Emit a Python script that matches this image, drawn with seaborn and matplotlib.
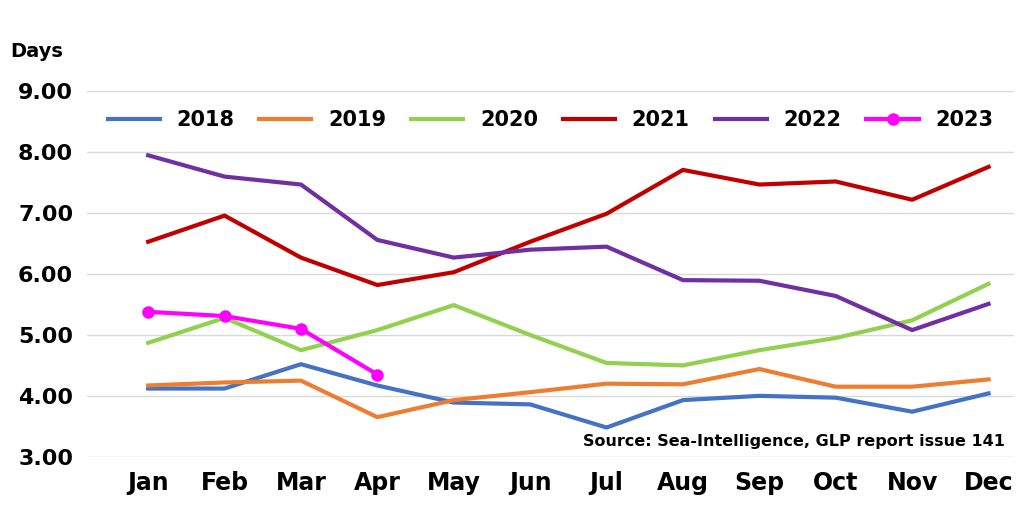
import matplotlib
matplotlib.use("Agg")
import matplotlib.pyplot as plt
import pandas as pd
import seaborn as sns

months = ["Jan", "Feb", "Mar", "Apr", "May", "Jun", "Jul", "Aug", "Sep", "Oct", "Nov", "Dec"]
y2018 = [4.12, 4.12, 4.52, 4.17, 3.89, 3.86, 3.48, 3.93, 4.00, 3.97, 3.74, 4.04]
y2019 = [4.17, 4.22, 4.25, 3.65, 3.93, 4.06, 4.20, 4.19, 4.44, 4.15, 4.15, 4.27]
y2020 = [4.87, 5.28, 4.75, 5.08, 5.49, 5.00, 4.54, 4.50, 4.75, 4.95, 5.24, 5.84]
y2021 = [6.53, 6.96, 6.27, 5.82, 6.03, 6.53, 6.99, 7.71, 7.47, 7.52, 7.22, 7.76]
y2022 = [7.95, 7.60, 7.47, 6.56, 6.27, 6.40, 6.45, 5.90, 5.89, 5.64, 5.08, 5.51]
y2023 = [5.38, 5.31, 5.10, 4.35]

series = {"2018": y2018, "2019": y2019, "2020": y2020, "2021": y2021, "2022": y2022}
colors = {"2018": "#4472C4", "2019": "#ED7D31", "2020": "#92D050", "2021": "#C00000",
          "2022": "#7030A0", "2023": "#FF00FF"}

rows = []
for yr, vals in series.items():
    for m, v in zip(months, vals):
        rows.append((yr, m, v))
df = pd.DataFrame(rows, columns=["year", "month", "days"])
df23 = pd.DataFrame({"year": "2023", "month": months[:4], "days": y2023})

plt.rcParams["font.family"] = "DejaVu Sans"
plt.rcParams["font.weight"] = "bold"
fig, ax = plt.subplots(figsize=(10.24, 5.22), dpi=100)
fig.subplots_adjust(left=0.085, right=0.99, top=0.825, bottom=0.125)

sns.lineplot(data=df, x="month", y="days", hue="year", palette=colors, linewidth=3, ax=ax, sort=False)
sns.lineplot(data=df23, x="month", y="days", color=colors["2023"], linewidth=3, marker="o",
             markersize=9, markeredgewidth=0, ax=ax, sort=False, label="2023")

ax.set_ylim(3, 9)
ax.set_yticks([3, 4, 5, 6, 7, 8, 9])
ax.set_yticklabels([f"{v:.2f}" for v in range(3, 10)], fontsize=16, fontweight="bold")
ax.set_xticks(range(12))
ax.set_xticklabels(months, fontsize=17, fontweight="bold")
ax.set_xlim(-0.8, 11.33)
ax.tick_params(length=0, pad=10)
ax.grid(axis="y", color="#d9d9d9", linewidth=1)
ax.set_axisbelow(True)
for s in ax.spines.values():
    s.set_visible(False)
ax.set_xlabel("")
ax.set_ylabel("")
fig.text(0.01, 0.89, "Days", fontsize=14, fontweight="bold")
ax.legend(ncol=6, loc="upper center", bbox_to_anchor=(0.5, 1.0), frameon=False,
          prop={"size": 15, "weight": "bold"}, handlelength=2.5, columnspacing=1.2)
ax.text(0.99, 0.02, "Source: Sea-Intelligence, GLP report issue 141", transform=ax.transAxes,
        ha="right", va="bottom", fontsize=11.5, fontweight="bold",
        bbox=dict(facecolor="white", edgecolor="none", pad=2))

fig.savefig("out.png", dpi=100)
